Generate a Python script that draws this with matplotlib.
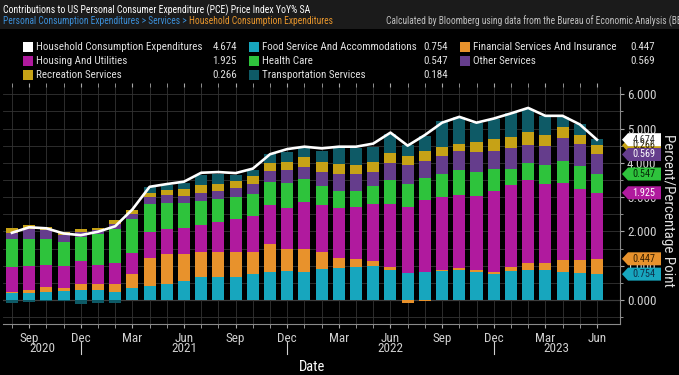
import matplotlib
matplotlib.use("Agg")
import matplotlib.pyplot as plt
import numpy as np
from matplotlib import font_manager
from matplotlib.font_manager import FontProperties
from matplotlib.patches import Rectangle, Polygon

# look for a narrow face, Bloomberg charts use a condensed font
prefer = ["Liberation Sans Narrow", "Roboto Condensed", "Open Sans Condensed",
          "DejaVu Sans", "Noto Sans", "Roboto", "Open Sans"]
found = {}
for f in font_manager.fontManager.ttflist:
    narrow = f.stretch in ("condensed", "semi-condensed") or "Narrow" in f.name or "Condensed" in f.name
    if narrow and f.style == "normal" and f.weight in ("normal", "regular", "book", 400):
        found.setdefault(f.name, f.fname)
fname = None
for n in prefer:
    if n in found:
        fname = found[n]
        break
if fname is None and found:
    fname = sorted(found.values())[0]
BASE = FontProperties(fname=fname) if fname else FontProperties(family="DejaVu Sans")


def fp(size):
    p = BASE.copy()
    p.set_size(size)
    return p


# monthly, Aug 2020 .. Jun 2023
months = ["Aug", "Sep", "Oct", "Nov", "Dec",
          "Jan", "Feb", "Mar", "Apr", "May", "Jun", "Jul", "Aug", "Sep", "Oct", "Nov", "Dec",
          "Jan", "Feb", "Mar", "Apr", "May", "Jun", "Jul", "Aug", "Sep", "Oct", "Nov", "Dec",
          "Jan", "Feb", "Mar", "Apr", "May", "Jun"]
years = [2020] * 5 + [2021] * 12 + [2022] * 12 + [2023] * 6

food = [0.21, 0.21, 0.24, 0.26, 0.29,
        0.29, 0.24, 0.34, 0.41, 0.46, 0.56, 0.68, 0.68, 0.68, 0.75, 0.81, 0.84,
        0.83, 0.90, 0.94, 0.95, 0.99, 0.87, 0.78, 0.83, 0.84, 0.87, 0.81, 0.76,
        0.85, 0.87, 0.87, 0.81, 0.78, 0.754]
financial = [0.02, 0.08, 0.14, 0.08, 0.19,
             0.17, 0.24, 0.42, 0.81, 0.88, 0.78, 0.73, 0.73, 0.71, 0.64, 0.82, 0.64,
             0.65, 0.49, 0.27, 0.24, 0.15, 0.08, -0.10, -0.03, 0.03, 0.05, 0.05, 0.05,
             0.11, 0.22, 0.21, 0.36, 0.39, 0.447]
housing = [0.73, 0.70, 0.65, 0.65, 0.65,
           0.57, 0.60, 0.62, 0.75, 0.72, 0.77, 0.78, 0.86, 0.96, 1.06, 1.15, 1.20,
           1.37, 1.39, 1.48, 1.53, 1.65, 1.86, 1.92, 2.09, 2.14, 2.14, 2.17, 2.37,
           2.39, 2.40, 2.29, 2.23, 2.07, 1.925]
health = [0.81, 0.79, 0.74, 0.71, 0.71,
          0.88, 1.00, 0.98, 0.83, 0.78, 0.71, 0.71, 0.66, 0.66, 0.64, 0.66, 0.74,
          0.68, 0.53, 0.49, 0.46, 0.53, 0.68, 0.68, 0.65, 0.65, 0.73, 0.69, 0.64,
          0.46, 0.50, 0.57, 0.66, 0.68, 0.547]
other = [0.19, 0.28, 0.27, 0.19, 0.14,
         0.12, 0.13, 0.14, 0.19, 0.22, 0.21, 0.23, 0.25, 0.25, 0.29, 0.33, 0.38,
         0.36, 0.43, 0.49, 0.49, 0.42, 0.51, 0.55, 0.49, 0.53, 0.55, 0.60, 0.53,
         0.61, 0.54, 0.56, 0.65, 0.62, 0.569]
recreation = [0.15, 0.12, 0.10, 0.10, 0.10,
              0.08, 0.12, 0.13, 0.14, 0.15, 0.21, 0.22, 0.21, 0.20, 0.24, 0.22, 0.22,
              0.29, 0.29, 0.30, 0.27, 0.29, 0.29, 0.27, 0.27, 0.26, 0.22, 0.29, 0.34,
              0.34, 0.36, 0.31, 0.32, 0.27, 0.266]
transport = [-0.08, -0.07, -0.02, -0.03, -0.12,
             -0.10, -0.10, 0.00, 0.16, 0.15, 0.17, 0.29, 0.27, 0.19, 0.17, 0.26, 0.29,
             0.24, 0.32, 0.46, 0.49, 0.44, 0.55, 0.31, 0.44, 0.76, 0.78, 0.56, 0.58,
             0.68, 0.68, 0.54, 0.31, 0.31, 0.184]
total = [1.96, 2.12, 2.09, 1.94, 1.89,
         1.99, 2.15, 2.64, 3.30, 3.38, 3.45, 3.71, 3.73, 3.70, 3.83, 4.25, 4.40,
         4.47, 4.42, 4.47, 4.47, 4.56, 4.88, 4.50, 4.81, 5.17, 5.34, 5.17, 5.29,
         5.44, 5.60, 5.37, 5.37, 5.12, 4.674]

colors = {
    "Food Service And Accommodations": "#17a6be",
    "Financial Services And Insurance": "#e8922c",
    "Housing And Utilities": "#b01a9e",
    "Health Care": "#2ec33c",
    "Other Services": "#653d8c",
    "Recreation Services": "#c6a216",
    "Transportation Services": "#0e5a66",
}
series = [
    ("Food Service And Accommodations", food),
    ("Financial Services And Insurance", financial),
    ("Housing And Utilities", housing),
    ("Health Care", health),
    ("Other Services", other),
    ("Recreation Services", recreation),
    ("Transportation Services", transport),
]
total_name = "Household Consumption Expenditures"

W, H = 679, 375
fig = plt.figure(figsize=(W / 100, H / 100), dpi=100, facecolor="black")
renderer = fig.canvas.get_renderer()


def size_for(s, width_px):
    w, _, _ = renderer.get_text_width_height_descent(s, fp(10), ismath=False)
    return 10 * width_px / w


ax = fig.add_axes([3 / W, 1 - 324 / H, 617 / W, 237 / H])
ax.set_facecolor("black")

x = np.arange(len(months))
pos = np.zeros(len(x))
neg = np.zeros(len(x))
tops = {}
for name, vals in series:
    v = np.array(vals)
    base = np.where(v >= 0, pos, neg)
    ax.bar(x, v, bottom=base, width=0.7, color=colors[name], zorder=2, linewidth=0)
    pos = np.where(v >= 0, pos + v, pos)
    neg = np.where(v < 0, neg + v, neg)
    tops[name] = pos[-1]
ax.plot(x, total, color="white", lw=1.9, zorder=3)

tick_size = size_for("6.000", 29)
ax.set_xlim(-0.52, 35.34)
ax.set_ylim(-0.70, 6.21)
ax.set_yticks(np.arange(0, 7, 1))
ax.set_yticks(np.arange(-0.5, 6.1, 0.5), minor=True)
ax.set_yticklabels([f"{v:.3f}" for v in range(7)], fontproperties=fp(tick_size))
ax.yaxis.tick_right()
ax.set_xticks(x, minor=True)
major = [i for i, m in enumerate(months) if m in ("Sep", "Dec", "Mar", "Jun")]
ax.set_xticks(major)
ax.set_xticklabels([months[i] for i in major], fontproperties=fp(tick_size))
ax.grid(which="both", color="#343434", lw=0.6, zorder=0)
ax.axhline(0, color="#707070", lw=0.8, zorder=1)
ax.tick_params(axis="y", which="both", colors="#a8a8a8", labelcolor="#d0d0d0", length=3, pad=2)
ax.tick_params(axis="y", which="minor", length=2)
ax.tick_params(axis="x", which="both", colors="#a8a8a8", labelcolor="#d0d0d0",
               length=3, pad=2.5, top=True)
for s in ("top", "left"):
    ax.spines[s].set_visible(False)
for s in ("bottom", "right"):
    ax.spines[s].set_color("#8a8a8a")

# year labels and separators
seps = [i for i, m in enumerate(months) if m == "Dec"]
edges = [-0.52] + seps + [35.34]
for k, yr in enumerate(sorted(set(years))):
    ax.text((edges[k] + edges[k + 1]) / 2, -0.105, str(yr), transform=ax.get_xaxis_transform(),
            ha="center", va="center", color="#d0d0d0", fontproperties=fp(tick_size))
for s in seps:
    ax.plot([s, s], [-0.075, -0.128], transform=ax.get_xaxis_transform(),
            color="#d0d0d0", lw=0.8, clip_on=False)
fig.text(312 / W, 1 - 367 / H, "Date", color="white", ha="center", va="center",
         fontproperties=fp(size_for("Date", 26)))
ylab = "Percent/Percentage Point"
fig.text(668 / W, 1 - 210 / H, ylab, color="#e0e0e0", rotation=270, ha="center", va="center",
         fontproperties=fp(size_for(ylab, 152)))

# header
fig.patches.append(Rectangle((0, 1 - 29 / H), 1, 29 / H, transform=fig.transFigure,
                             facecolor="#1b1b1b", edgecolor="none", zorder=0))
title = "Contributions to US Personal Consumer Expenditure (PCE) Price Index YoY% SA"
fig.text(3 / W, 1 - 10 / H, title, color="white", va="center",
         fontproperties=fp(size_for(title, 306)))
crumb = "Personal Consumption Expenditures > Services > "
crumb_fp = fp(size_for(crumb, 185))
t1 = fig.text(3 / W, 1 - 21 / H, crumb, color="#3b8fd8", va="center", fontproperties=crumb_fp)
bb = t1.get_window_extent(renderer)
fig.text(bb.x1 / W, 1 - 21 / H, "Household Consumption Expenditures",
         color="#e8962c", va="center", fontproperties=crumb_fp)
fig.text(386 / W, 1 - 21 / H, "Calculated by Bloomberg using data from the Bureau of Economic Analysis (BEA",
         color="#c0c0c0", va="center", fontproperties=crumb_fp)

# legend
leg_size = size_for(total_name, 166)
leg = [
    [(total_name, total[-1], "white"),
     ("Housing And Utilities", housing[-1], colors["Housing And Utilities"]),
     ("Recreation Services", recreation[-1], colors["Recreation Services"])],
    [("Food Service And Accommodations", food[-1], colors["Food Service And Accommodations"]),
     ("Health Care", health[-1], colors["Health Care"]),
     ("Transportation Services", transport[-1], colors["Transportation Services"])],
    [("Financial Services And Insurance", financial[-1], colors["Financial Services And Insurance"]),
     ("Other Services", other[-1], colors["Other Services"])],
]
col_x = [(23, 237), (249, 448), (460, 655)]
rows_y = [47, 61, 75]
for (sx, vx), items in zip(col_x, leg):
    for yy, (name, val, col) in zip(rows_y, items):
        fig.patches.append(Rectangle((sx / W, 1 - (yy + 5) / H), 10 / W, 10 / H,
                                     transform=fig.transFigure, facecolor=col, edgecolor="none"))
        fig.text((sx + 13) / W, 1 - yy / H, name, color="#e0e0e0", va="center",
                 fontproperties=fp(leg_size))
        fig.text(vx / W, 1 - yy / H, f"{val:.3f}", color="#e0e0e0", va="center", ha="right",
                 fontproperties=fp(leg_size))

# value tags on the right axis
tags = [
    ("Food Service And Accommodations", food[-1], "#10304a"),
    ("Financial Services And Insurance", financial[-1], "#3a2000"),
    ("Housing And Utilities", housing[-1], "white"),
    ("Health Care", health[-1], "#062a08"),
    ("Recreation Services", recreation[-1], "#302600"),
    ("Other Services", other[-1], "white"),
]
tag_size = size_for("4.674", 23)
tag_list = [(tops[n], v, colors[n], tc) for n, v, tc in tags] + [(total[-1], total[-1], "white", "#333333")]
for level, val, col, tcol in tag_list:
    ypx = ax.transData.transform((0, level))[1]
    y0, y1 = (ypx - 6.5) / H, (ypx + 6.5) / H
    poly = [(622 / W, ypx / H), (628 / W, y1), (661 / W, y1), (661 / W, y0), (628 / W, y0)]
    fig.patches.append(Polygon(poly, closed=True, transform=fig.transFigure,
                               facecolor=col, edgecolor="none", zorder=5))
    fig.text(644 / W, ypx / H, f"{val:.3f}", color=tcol, ha="center", va="center", zorder=6,
             fontproperties=fp(tag_size))

fig.savefig("out.png", dpi=100, facecolor="black")
